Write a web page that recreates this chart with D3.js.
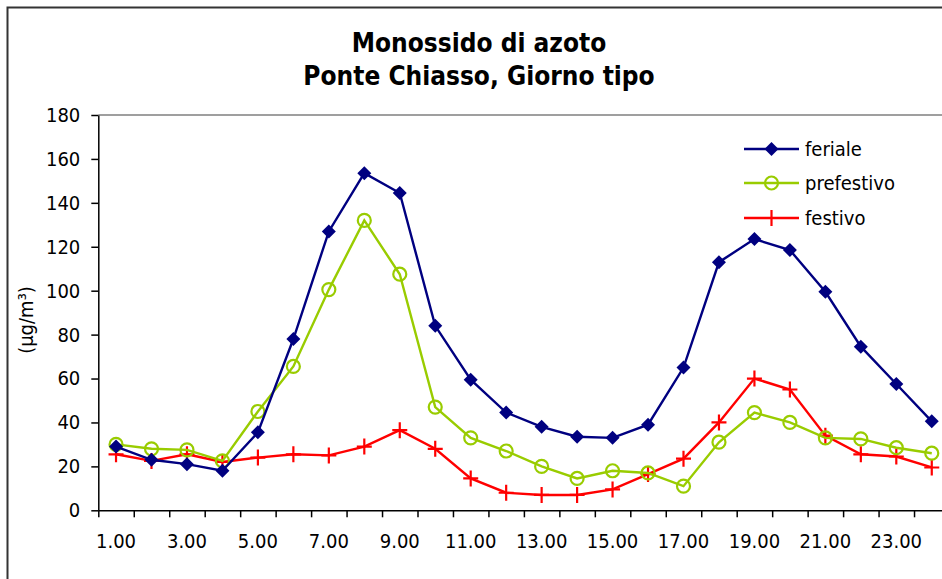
<!DOCTYPE html>
<html>
<head>
<meta charset="utf-8">
<script src="https://cdn.jsdelivr.net/npm/d3@7"></script>
<style>
  body { margin: 0; background: #fff; }
  svg { display: block; }
  text { font-family: "DejaVu Sans Condensed", "DejaVu Sans", sans-serif; font-stretch: condensed; fill: #000; }
</style>
</head>
<body>
<div id="chart"></div>
<script>
// hours of the typical day
var hours = d3.range(1, 25);
var xLabels = ["1.00", "3.00", "5.00", "7.00", "9.00", "11.00", "13.00", "15.00", "17.00", "19.00", "21.00", "23.00"];
var yTicks = [0, 20, 40, 60, 80, 100, 120, 140, 160, 180];

// NO concentrations (µg/m³)
var feriale     = [29, 23, 21, 18, 35.5, 78, 127, 153.5, 144.5, 84, 59.5, 44.5, 38, 33.5, 33, 39, 65, 113, 123.5, 118.5, 99.5, 74.5, 57.5, 40.5];
var prefestivo  = [30, 28, 27.5, 22.5, 45, 65.5, 100.5, 132, 107.5, 47, 33, 27, 20, 14.5, 18, 17, 11, 31, 44.5, 40, 33, 32.5, 28.5, 26];
var festivo     = [25.5, 22.5, 25.5, 22, 24, 25.5, 25, 29, 36.5, 28, 14.5, 8, 7, 7, 9.5, 16.5, 23.5, 40, 60, 55, 34, 25.5, 24.5, 19.5];

var seriesNames = ["feriale", "prefestivo", "festivo"];
var seriesColors = ["#000080", "#99cc00", "#ff0000"];
var seriesValues = [feriale, prefestivo, festivo];

var W = 942, H = 579;
var plot = {left: 98.3, right: 949.5, top: 115, bottom: 510.3};

var svg = d3.select("#chart")
  .append("svg")
    .attr("width", W)
    .attr("height", H);

// outer chart frame (cut off on the right and bottom like the original)
svg.append("rect")
  .attr("x", 7.5).attr("y", 7.5)
  .attr("width", W + 20).attr("height", H + 20)
  .attr("fill", "none")
  .attr("stroke", "#333")
  .attr("stroke-width", 2);

// title
svg.append("text")
  .attr("x", 479).attr("y", 52)
  .attr("text-anchor", "middle")
  .style("font-size", "26px").style("font-weight", "bold")
  .text("Monossido di azoto");
svg.append("text")
  .attr("x", 479).attr("y", 85)
  .attr("text-anchor", "middle")
  .style("font-size", "26px").style("font-weight", "bold")
  .text("Ponte Chiasso, Giorno tipo");

// scales
var x = d3.scaleBand()
  .domain(hours)
  .range([plot.left, plot.right])
  .padding(0);
var xEdge = d3.scaleLinear()
  .domain([0, 24])
  .range([plot.left, plot.right]);
var y = d3.scaleLinear()
  .domain([0, 180])
  .range([plot.bottom, plot.top]);

// plot area border (top / right in gray)
svg.append("path")
  .attr("d", "M" + plot.left + "," + plot.top + "H" + plot.right + "V" + plot.bottom)
  .attr("fill", "none")
  .attr("stroke", "#808080")
  .attr("stroke-width", 1.5);

// Y axis
var yAxis = svg.append("g")
  .attr("transform", "translate(" + plot.left + ",0)")
  .call(d3.axisLeft(y).tickValues(yTicks).tickSize(7).tickPadding(11).tickSizeOuter(0));
yAxis.selectAll("text").style("font-size", "20px");
yAxis.selectAll("line, path").attr("stroke", "#000").attr("stroke-width", 1.5);

// X axis: tick marks between categories
var xTicksG = svg.append("g")
  .attr("transform", "translate(0," + plot.bottom + ")")
  .call(d3.axisBottom(xEdge).tickValues(d3.range(0, 25)).tickSize(7).tickFormat("").tickSizeOuter(0));
xTicksG.selectAll("line, path").attr("stroke", "#000").attr("stroke-width", 1.5);

// X labels centered on categories
var xLab = svg.append("g")
  .attr("transform", "translate(0," + plot.bottom + ")")
  .call(d3.axisBottom(x)
    .tickValues(hours.filter(function(h) { return h % 2 == 1; }))
    .tickSize(0).tickPadding(24)
    .tickFormat(function(h, i) { return xLabels[i]; }));
xLab.select(".domain").remove();
xLab.selectAll("text").style("font-size", "20px");

// y axis title
svg.append("text")
  .attr("transform", "translate(33,320) rotate(-90)")
  .attr("text-anchor", "middle")
  .style("font-size", "20px")
  .text("(µg/m³)");

var cx = function(d, i) { return x(hours[i]) + x.bandwidth() / 2; };

var line = d3.line()
  .x(cx)
  .y(function(d) { return y(d); });

// draw a marker of the given series at (px, py)
function drawMarker(g, s, px, py) {
  var c = seriesColors[s];
  if (s == 0) {
    g.append("path")
      .attr("d", "M" + px + "," + (py - 7) + "L" + (px + 7) + "," + py + "L" + px + "," + (py + 7) + "L" + (px - 7) + "," + py + "Z")
      .attr("fill", c);
  } else if (s == 1) {
    g.append("circle")
      .attr("cx", px).attr("cy", py).attr("r", 6.5)
      .attr("fill", "none")
      .attr("stroke", c)
      .attr("stroke-width", 2.2);
  } else {
    g.append("path")
      .attr("d", "M" + (px - 7.5) + "," + py + "H" + (px + 7.5) + "M" + px + "," + (py - 8) + "V" + (py + 8))
      .attr("stroke", c)
      .attr("stroke-width", 2.2);
  }
}

// lines, then markers (festivo drawn first so feriale stays on top)
[2, 1, 0].forEach(function(s) {
  svg.append("path")
    .datum(seriesValues[s])
    .attr("fill", "none")
    .attr("stroke", seriesColors[s])
    .attr("stroke-width", 2.4)
    .attr("d", line);
  var g = svg.append("g");
  seriesValues[s].forEach(function(v, i) {
    drawMarker(g, s, cx(v, i), y(v));
  });
});

// legend
var legendY = [149, 183, 218];
seriesNames.forEach(function(name, s) {
  var g = svg.append("g");
  g.append("line")
    .attr("x1", 744).attr("x2", 799)
    .attr("y1", legendY[s]).attr("y2", legendY[s])
    .attr("stroke", seriesColors[s])
    .attr("stroke-width", 2.4);
  drawMarker(g, s, 771.5, legendY[s]);
  g.append("text")
    .attr("x", 805).attr("y", legendY[s])
    .attr("dy", "0.35em")
    .style("font-size", "20px")
    .text(name);
});
</script>
</body>
</html>
